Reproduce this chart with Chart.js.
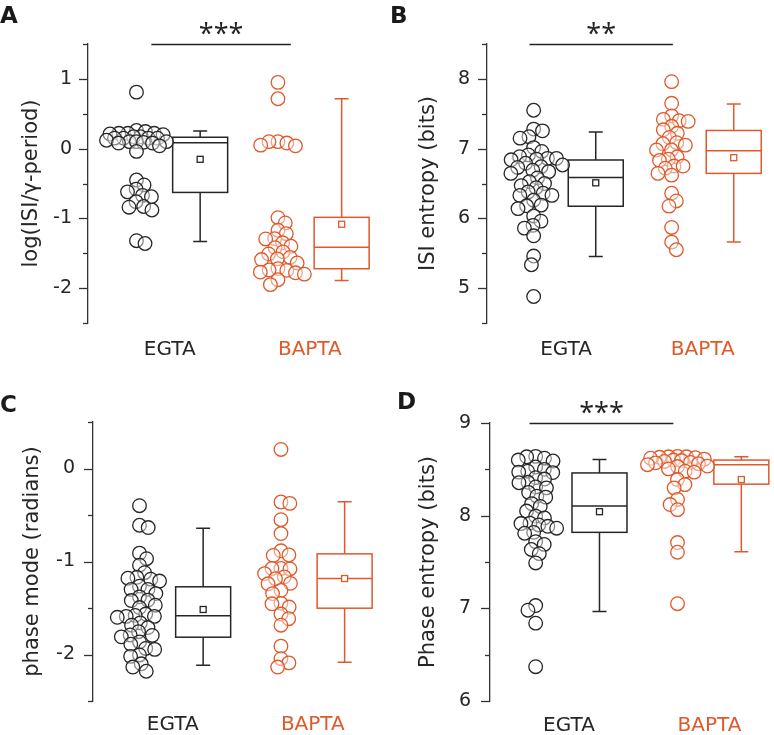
<!DOCTYPE html>
<html><head><meta charset="utf-8">
<script src="https://cdn.jsdelivr.net/npm/chart.js@4.4.1/dist/chart.umd.min.js"></script>
<style>
html,body{margin:0;padding:0;background:#fff;}
#wrap{position:relative;width:774px;height:735px;overflow:hidden;background:#fff;}
canvas{position:absolute;}
</style></head><body>
<div id="wrap">
<canvas id="cA" width="387" height="367" style="left:0;top:0"></canvas>
<canvas id="cB" width="387" height="367" style="left:387px;top:0"></canvas>
<canvas id="cC" width="387" height="368" style="left:0;top:367px"></canvas>
<canvas id="cD" width="387" height="368" style="left:387px;top:367px"></canvas>
</div>
<script>
// ---------- DATA ----------
const categories = ['EGTA', 'BAPTA'];
const categoryTickPos = [1.235, 2.225];

const egtaLogISI = [0.81, 0.26, 0.245, 0.22, 0.22, 0.22, 0.21, 0.20, 0.17, 0.17, 0.15, 0.15, 0.15, 0.15, 0.12, 0.10, 0.10, 0.10, 0.09, 0.08, 0.08, 0.04, -0.04, -0.45, -0.52, -0.58, -0.62, -0.67, -0.69, -0.76, -0.83, -0.84, -0.88, -1.32, -1.36];
const baptaLogISI = [0.95, 0.715, 0.10, 0.10, 0.08, 0.05, 0.04, -0.99, -1.065, -1.17, -1.22, -1.29, -1.295, -1.35, -1.40, -1.42, -1.48, -1.51, -1.56, -1.58, -1.59, -1.64, -1.72, -1.74, -1.745, -1.77, -1.78, -1.80, -1.88, -1.95];

const egtaISIEntropy = [7.55, 7.28, 7.255, 7.17, 7.15, 7.015, 6.96, 6.91, 6.885, 6.86, 6.86, 6.85, 6.84, 6.79, 6.765, 6.74, 6.73, 6.69, 6.67, 6.645, 6.58, 6.525, 6.50, 6.47, 6.44, 6.38, 6.36, 6.33, 6.33, 6.26, 6.19, 6.18, 6.14, 6.035, 5.96, 5.90, 5.86, 5.75, 5.46, 5.335, 4.88];
const baptaISIEntropy = [7.96, 7.65, 7.47, 7.42, 7.40, 7.39, 7.32, 7.27, 7.22, 7.16, 7.085, 7.07, 7.05, 6.98, 6.98, 6.88, 6.85, 6.83, 6.75, 6.75, 6.72, 6.645, 6.62, 6.36, 6.25, 6.175, 5.87, 5.66, 5.55];

const egtaPhaseMode = [-0.40, -0.61, -0.635, -0.91, -0.97, -1.04, -1.12, -1.17, -1.18, -1.19, -1.21, -1.265, -1.30, -1.30, -1.345, -1.38, -1.415, -1.42, -1.47, -1.495, -1.565, -1.58, -1.59, -1.59, -1.60, -1.66, -1.685, -1.71, -1.755, -1.79, -1.795, -1.81, -1.865, -1.89, -1.935, -1.945, -2.005, -2.02, -2.10, -2.135, -2.18];
const baptaPhaseMode = [0.205, -0.36, -0.375, -0.55, -0.70, -0.885, -0.93, -0.935, -1.075, -1.075, -1.08, -1.13, -1.165, -1.185, -1.235, -1.24, -1.31, -1.345, -1.45, -1.455, -1.49, -1.565, -1.615, -1.685, -1.91, -2.045, -2.09, -2.135];

const egtaPhaseEntropy = [8.64, 8.635, 8.62, 8.60, 8.59, 8.525, 8.50, 8.48, 8.47, 8.465, 8.41, 8.395, 8.36, 8.355, 8.31, 8.30, 8.25, 8.21, 8.20, 8.13, 8.10, 8.05, 7.995, 7.975, 7.92, 7.915, 7.90, 7.885, 7.865, 7.82, 7.81, 7.72, 7.69, 7.635, 7.59, 7.49, 7.03, 6.98, 6.84, 6.37];
const baptaPhaseEntropy = [8.64, 8.635, 8.635, 8.63, 8.625, 8.62, 8.61, 8.60, 8.595, 8.585, 8.575, 8.57, 8.56, 8.55, 8.535, 8.53, 8.505, 8.48, 8.47, 8.39, 8.335, 8.30, 8.175, 8.12, 8.065, 7.71, 7.605, 7.05];

// box stats: [lower whisker, Q1, median, Q3, upper whisker, mean]
const boxEgtaLogISI = [-1.333, -0.628, 0.086, 0.163, 0.254, -0.153];
const boxBaptaLogISI = [-1.89, -1.722, -1.415, -0.985, 0.715, -1.084];
const boxEgtaISIEntropy = [5.454, 6.174, 6.587, 6.837, 7.24, 6.51];
const boxBaptaISIEntropy = [5.66, 6.645, 6.97, 7.26, 7.64, 6.87];
const boxEgtaPhaseMode = [-2.115, -1.814, -1.584, -1.272, -0.642, -1.516];
const boxBaptaPhaseMode = [-2.082, -1.502, -1.183, -0.918, -0.358, -1.183];
const boxEgtaPhaseEntropy = [6.966, 7.82, 8.104, 8.461, 8.605, 8.043];
const boxBaptaPhaseEntropy = [7.61, 8.34, 8.55, 8.60, 8.637, 8.39];

const significance = ['***', '**', null, '***'];
const yTitles = ['log(ISI/\u03b3-period)', 'ISI entropy (bits)', 'phase mode (radians)', 'Phase entropy (bits)'];
const panelLetters = ['A', 'B', 'C', 'D'];
const yRanges = [[-2.5, 1.5], [4.5, 8.5], [-2.5, 0.5], [6, 9]];

// ---------- STYLE / LAYOUT ----------
const ORANGE = '#E0592B', DARK = '#262626', AXIS = '#333333';
const FONT = '"DejaVu Sans", sans-serif';
const STAR_FONT = '"Open Sans", sans-serif';
const BOX_OFF = 0.45, BOX_HALF_PX = 27.5, CAP_HALF_PX = 7;
const TITLE_SIZE = 21;

const layouts = [
  {canvas:'cA', letterX:0, letterY:23, titleX:32, axisLeft:88, axisTop:44, axisBottom:323, right:382, scatterPx:137, unit:143, labelPad:15, tickGap:16, sigFrom:1.105, sigTo:2.091},
  {canvas:'cB', letterX:3, letterY:23, titleX:42, axisLeft:100, axisTop:44, axisBottom:323, right:387, scatterPx:148, unit:142, labelPad:15, tickGap:17, sigFrom:0.970, sigTo:2.009},
  {canvas:'cC', letterX:0, letterY:45, titleX:33, axisLeft:93, axisTop:55, axisBottom:334, right:382, scatterPx:140, unit:143, labelPad:12, tickGap:18, sigFrom:0, sigTo:0},
  {canvas:'cD', letterX:10, letterY:42, titleX:41.5, axisLeft:103, axisTop:56, axisBottom:334, right:387, scatterPx:150, unit:146, labelPad:13, tickGap:19, sigFrom:0.957, sigTo:1.971}
];
const panelData = [
  {egta: egtaLogISI, bapta: baptaLogISI, boxE: boxEgtaLogISI, boxB: boxBaptaLogISI},
  {egta: egtaISIEntropy, bapta: baptaISIEntropy, boxE: boxEgtaISIEntropy, boxB: boxBaptaISIEntropy},
  {egta: egtaPhaseMode, bapta: baptaPhaseMode, boxE: boxEgtaPhaseMode, boxB: boxBaptaPhaseMode},
  {egta: egtaPhaseEntropy, bapta: baptaPhaseEntropy, boxE: boxEgtaPhaseEntropy, boxB: boxBaptaPhaseEntropy}
];

function overlayPlugin(p) {
  const L = layouts[p], D = panelData[p];
  return {
    id: 'overlay' + p,
    beforeDatasetsDraw(chart) {
      const {ctx, scales: {x, y}} = chart;
      ctx.save();
      [[D.boxE, 1 + BOX_OFF, DARK], [D.boxB, 2 + BOX_OFF, ORANGE]].forEach(([b, cx, col]) => {
        const [lo, q1, med, q3, hi, mean] = b;
        const px = x.getPixelForValue(cx);
        const yq1 = y.getPixelForValue(q1), yq3 = y.getPixelForValue(q3);
        const ylo = y.getPixelForValue(lo), yhi = y.getPixelForValue(hi);
        const ymed = y.getPixelForValue(med), ymean = y.getPixelForValue(mean);
        ctx.strokeStyle = col; ctx.lineWidth = 1.5;
        ctx.beginPath();
        ctx.moveTo(px, yq3); ctx.lineTo(px, yhi);
        ctx.moveTo(px - CAP_HALF_PX, yhi); ctx.lineTo(px + CAP_HALF_PX, yhi);
        ctx.moveTo(px, yq1); ctx.lineTo(px, ylo);
        ctx.moveTo(px - CAP_HALF_PX, ylo); ctx.lineTo(px + CAP_HALF_PX, ylo);
        ctx.stroke();
        ctx.fillStyle = '#fff';
        ctx.fillRect(px - BOX_HALF_PX, yq3, 2 * BOX_HALF_PX, yq1 - yq3);
        ctx.strokeRect(px - BOX_HALF_PX, yq3, 2 * BOX_HALF_PX, yq1 - yq3);
        ctx.beginPath();
        ctx.moveTo(px - BOX_HALF_PX, ymed); ctx.lineTo(px + BOX_HALF_PX, ymed);
        ctx.stroke();
        ctx.lineWidth = 1.3;
        ctx.fillStyle = '#fff';
        ctx.fillRect(px - 3, ymean - 3, 6, 6);
        ctx.strokeRect(px - 3, ymean - 3, 6, 6);
      });
      ctx.restore();
    },
    afterDraw(chart) {
      const {ctx, scales: {x, y}, chartArea} = chart;
      ctx.save();
      ctx.strokeStyle = AXIS; ctx.lineWidth = 1.3;
      y.ticks.forEach(t => {
        const py = Math.round(y.getPixelForValue(t.value)) + 0.5;
        const major = Math.abs(t.value - Math.round(t.value)) < 1e-6;
        const len = major ? 9 : 5;
        ctx.beginPath();
        ctx.moveTo(chartArea.left - len, py); ctx.lineTo(chartArea.left, py);
        ctx.stroke();
      });
      const sig = significance[p];
      if (sig) {
        const yb = y.getPixelForValue(yRanges[p][1]) + 0.5;
        const x0 = x.getPixelForValue(L.sigFrom), x1 = x.getPixelForValue(L.sigTo);
        ctx.strokeStyle = '#222'; ctx.lineWidth = 1.3;
        ctx.beginPath(); ctx.moveTo(x0, yb); ctx.lineTo(x1, yb); ctx.stroke();
        ctx.fillStyle = '#222';
        ctx.font = '27px ' + STAR_FONT;
        ctx.textAlign = 'center'; ctx.textBaseline = 'alphabetic';
        ctx.fillText(sig, (x0 + x1) / 2, yb - 2);
      }
      ctx.fillStyle = '#1a1a1a';
      ctx.font = 'bold 23px "DejaVu Sans", sans-serif';
      ctx.textAlign = 'left'; ctx.textBaseline = 'alphabetic';
      ctx.fillText(panelLetters[p], L.letterX, L.letterY);
      ctx.restore();
    }
  };
}

function swarmOffsets(ys, values, dmin, maxOff) {
  const order = values.map((v, i) => i).sort((a, b) => values[b] - values[a]);
  const placed = [], off = new Array(values.length).fill(0);
  order.forEach((i, k) => {
    const py = ys.getPixelForValue(values[i]);
    const cands = [0];
    placed.forEach(q => {
      const dy = Math.abs(q.y - py);
      if (dy < dmin) { const dx = Math.sqrt(dmin * dmin - dy * dy); cands.push(q.x + dx, q.x - dx); }
    });
    const sgn = k % 2 ? 1 : -1;
    cands.sort((a, b) => (Math.abs(a) - Math.abs(b)) || sgn * (a - b));
    const ok = c => placed.every(q => (q.x - c) ** 2 + (q.y - py) ** 2 >= dmin * dmin - 0.5);
    let best = cands.find(c => Math.abs(c) <= maxOff && ok(c));
    if (best === undefined) {
      let score = -1;
      for (let c = -maxOff; c <= maxOff; c += 1) {
        const m = Math.min(...placed.map(q => Math.hypot(q.x - c, q.y - py)));
        if (m > score) { score = m; best = c; }
      }
    }
    placed.push({x: best, y: py}); off[i] = best;
  });
  return off;
}

const charts = layouts.map((L, p) => {
  const D = panelData[p];
  const cv = document.getElementById(L.canvas);
  const W = cv.width, H = cv.height;
  const xMin = 1 - (L.scatterPx - L.axisLeft) / L.unit;
  const xMax = xMin + (L.right - L.axisLeft) / L.unit;
  const pointStyle = col => ({
    borderColor: col, backgroundColor: 'rgba(255,255,255,0.45)',
    pointRadius: 6.8, pointHoverRadius: 6.8, pointBorderWidth: 1.3, pointHoverBorderWidth: 1.3
  });
  const chart = new Chart(cv, {
    type: 'scatter',
    data: {datasets: [
      Object.assign({label: categories[0], data: D.egta.map(v => ({x: 1, y: v}))}, pointStyle(DARK)),
      Object.assign({label: categories[1], data: D.bapta.map(v => ({x: 2, y: v}))}, pointStyle(ORANGE))
    ]},
    options: {
      responsive: false, animation: false, events: [],
      layout: {padding: {left: 0, top: L.axisTop, right: W - L.right, bottom: 0}},
      plugins: {legend: {display: false}, tooltip: {enabled: false}},
      scales: {
        x: {
          type: 'linear', min: xMin, max: xMax,
          grid: {display: false, drawTicks: false}, border: {display: false},
          afterBuildTicks: s => { s.ticks = categoryTickPos.map(v => ({value: v})); },
          afterFit: s => { s.height = H - L.axisBottom; },
          ticks: {autoSkip: false, maxRotation: 0, padding: L.labelPad,
            font: {family: FONT, size: 20}, color: c => c.index === 0 ? DARK : ORANGE,
            callback: (v, i) => categories[i]}
        },
        y: {
          min: yRanges[p][0], max: yRanges[p][1],
          grid: {display: false, drawTicks: false},
          border: {display: true, color: AXIS, width: 1.3},
          afterFit: s => { s.width = L.axisLeft; },
          ticks: {stepSize: 0.5, padding: L.tickGap, font: {family: FONT, size: 19}, color: DARK,
            callback: v => Math.abs(v - Math.round(v)) < 1e-6 ? String(Math.round(v)) : ''},
          title: {display: true, text: yTitles[p], font: {family: FONT, size: TITLE_SIZE}, color: DARK,
            padding: {top: L.titleX - TITLE_SIZE * 0.6, bottom: 0}}
        }
      }
    },
    plugins: [overlayPlugin(p)]
  });
  return {chart, D};
});

charts.forEach(({chart, D}) => {
  const xs = chart.scales.x, ys = chart.scales.y;
  const ppu = xs.getPixelForValue(1) - xs.getPixelForValue(0);
  const oE = swarmOffsets(ys, D.egta, 9, 30);
  const oB = swarmOffsets(ys, D.bapta, 9, 30);
  chart.data.datasets[0].data = D.egta.map((v, i) => ({x: 1 + oE[i] / ppu, y: v}));
  chart.data.datasets[1].data = D.bapta.map((v, i) => ({x: 2 + oB[i] / ppu, y: v}));
  chart.update('none');
});
</script>
</body></html>
